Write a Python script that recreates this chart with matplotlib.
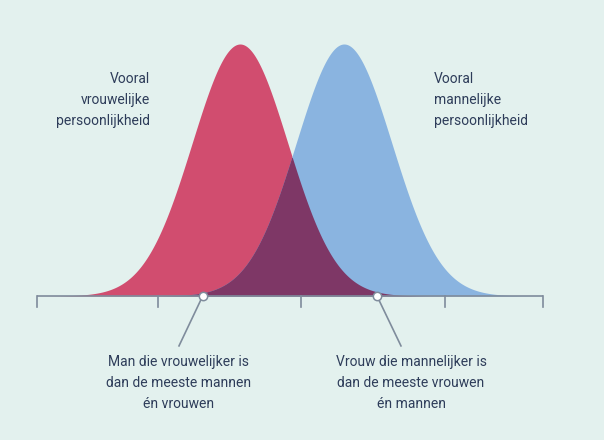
import numpy as np
import matplotlib
matplotlib.use("Agg")
import matplotlib.pyplot as plt

plt.rcParams['font.family'] = ['Roboto', 'DejaVu Sans']

# verdelingen (in eenheden langs de as)
means = [-1.0, 1.0]          # vrouw, man
sigma = 0.92
peak = 1.0

axis_range = [-4.904, 4.827]
tick_pos = [-4.904, -2.577, 0.173, 2.942, 4.827]

marker_pos = [-1.717, 1.635]
label_anchor = [(-2.173, -0.198), (2.096, -0.198)]

top_labels = ["Vooral\nvrouwelijke\npersoonlijkheid",
              "Vooral\nmannelijke\npersoonlijkheid"]
bottom_labels = ["Man die vrouwelijker is\ndan de meeste mannen\nén vrouwen",
                 "Vrouw die mannelijker is\ndan de meeste vrouwen\nén mannen"]

bg = "#e3f1ee"
red = "#d14d6f"
blue = "#8ab4e0"
purple = "#7e3766"
axis_col = "#7f8c9c"
text_col = "#2e3d5a"

fig = plt.figure(figsize=(6.04, 4.4), dpi=100, facecolor=bg)
ax = fig.add_axes([0, 0, 1, 1])
ax.set_facecolor(bg)
ax.set_xlim(-5.615, 6.0)
ax.set_ylim(-0.5714, 1.1746)
ax.axis('off')

x = np.linspace(axis_range[0], axis_range[1], 800)
red_y = peak * np.exp(-0.5 * ((x - means[0]) / sigma) ** 2)
blue_y = peak * np.exp(-0.5 * ((x - means[1]) / sigma) ** 2)

ax.fill_between(x, 0, red_y, color=red, lw=0, zorder=2)
ax.fill_between(x, 0, blue_y, color=blue, lw=0, zorder=2)
ax.fill_between(x, 0, np.minimum(red_y, blue_y), color=purple, lw=0, zorder=3)

# as met streepjes
ax.plot(axis_range, [0, 0], color=axis_col, lw=1.2, zorder=4, solid_capstyle='butt')
for t in tick_pos:
    ax.plot([t, t], [0, -0.044], color=axis_col, lw=1.2, zorder=4)

# aanwijslijnen
for m, (lx, ly) in zip(marker_pos, label_anchor):
    ax.plot([m, lx], [0, ly], color=axis_col, lw=1.2, zorder=4)
    ax.plot(m, 0, 'o', ms=6, mfc='white', mec=axis_col, mew=1.1, zorder=5)

fs = 10
ls = 1.62
ax.text(-2.73, 0.778, top_labels[0], ha='right', va='center', fontsize=fs,
        color=text_col, linespacing=ls)
ax.text(2.73, 0.778, top_labels[1], ha='left', va='center', fontsize=fs,
        color=text_col, linespacing=ls)

ax.text(-2.19, -0.345, bottom_labels[0], ha='center', va='center', fontsize=fs,
        color=text_col, linespacing=ls, multialignment='center')
ax.text(2.29, -0.345, bottom_labels[1], ha='center', va='center', fontsize=fs,
        color=text_col, linespacing=ls, multialignment='center')

fig.savefig("out.png", dpi=100, facecolor=bg)
